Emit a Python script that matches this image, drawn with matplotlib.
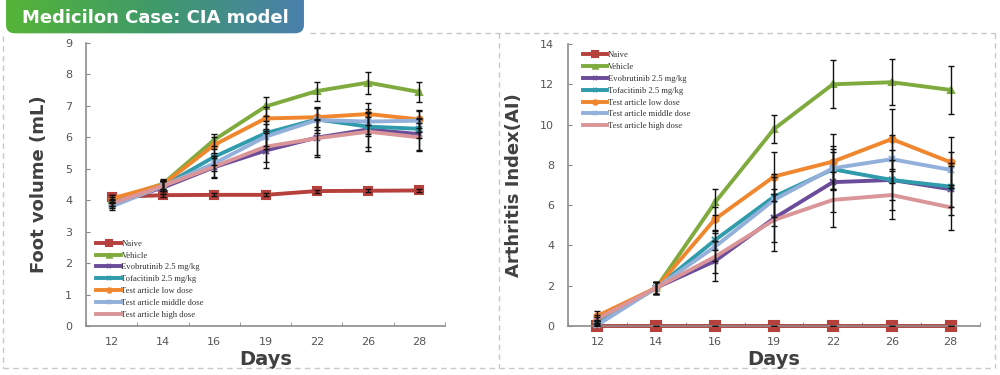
import numpy as np
import matplotlib
matplotlib.use("Agg")
import matplotlib.pyplot as plt
from matplotlib.patches import FancyBboxPatch
from matplotlib.lines import Line2D
from matplotlib.ticker import FixedLocator

days = ['12', '14', '16', '19', '22', '26', '28']
groups = ['Naive', 'Vehicle', 'Evobrutinib 2.5 mg/kg', 'Tofacitinib 2.5 mg/kg',
          'Test article low dose', 'Test article middle dose', 'Test article high dose']

# foot volume (mL)
foot_naive = [4.10, 4.16, 4.17, 4.17, 4.29, 4.30, 4.31]
foot_vehicle = [4.00, 4.52, 5.92, 6.98, 7.47, 7.74, 7.44]
foot_evo = [3.90, 4.40, 5.05, 5.58, 5.99, 6.25, 6.10]
foot_tofa = [3.85, 4.45, 5.38, 6.13, 6.57, 6.34, 6.27]
foot_low = [4.05, 4.50, 5.76, 6.60, 6.64, 6.74, 6.57]
foot_mid = [3.80, 4.45, 5.17, 6.02, 6.55, 6.50, 6.53]
foot_high = [3.90, 4.45, 5.07, 5.70, 5.97, 6.18, 6.00]

foot_err_naive = [0.05, 0.05, 0.05, 0.05, 0.05, 0.05, 0.05]
foot_err_vehicle = [0.10, 0.15, 0.20, 0.30, 0.30, 0.35, 0.33]
foot_err_evo = [0.10, 0.20, 0.30, 0.55, 0.55, 0.55, 0.50]
foot_err_tofa = [0.10, 0.15, 0.25, 0.40, 0.35, 0.30, 0.30]
foot_err_low = [0.10, 0.15, 0.25, 0.35, 0.30, 0.35, 0.27]
foot_err_mid = [0.10, 0.15, 0.25, 0.40, 0.40, 0.40, 0.35]
foot_err_high = [0.10, 0.15, 0.35, 0.50, 0.60, 0.60, 0.45]

# arthritis index
ai_naive = [0, 0, 0, 0, 0, 0, 0]
ai_vehicle = [0.35, 1.90, 6.14, 9.78, 12.00, 12.10, 11.72]
ai_evo = [0.20, 1.90, 3.23, 5.35, 7.14, 7.25, 6.79]
ai_tofa = [0.15, 1.90, 4.27, 6.42, 7.78, 7.25, 6.92]
ai_low = [0.50, 1.90, 5.31, 7.42, 8.16, 9.28, 8.13]
ai_mid = [0.05, 1.90, 3.94, 6.26, 7.83, 8.28, 7.75]
ai_high = [0.35, 1.90, 3.44, 5.26, 6.26, 6.50, 5.89]

ai_err_naive = [0, 0, 0, 0, 0, 0, 0]
ai_err_vehicle = [0.20, 0.30, 0.65, 0.70, 1.20, 1.15, 1.20]
ai_err_evo = [0.10, 0.30, 1.00, 1.20, 1.50, 1.50, 1.30]
ai_err_tofa = [0.10, 0.30, 0.50, 1.00, 1.00, 1.00, 1.00]
ai_err_low = [0.25, 0.30, 0.60, 1.20, 1.37, 1.50, 1.27]
ai_err_mid = [0.10, 0.30, 0.70, 1.30, 1.10, 1.20, 0.90]
ai_err_high = [0.10, 0.30, 0.80, 1.55, 1.36, 1.20, 1.10]

colors = ['#b5403c', '#7fab3e', '#6b4c9a', '#2f9bab', '#f0862e', '#93b0da', '#d99597']
markers = ['s', '^', 'x', 'x', 'o', 'x', '_']

foot_series = [foot_naive, foot_vehicle, foot_evo, foot_tofa, foot_low, foot_mid, foot_high]
foot_errs = [foot_err_naive, foot_err_vehicle, foot_err_evo, foot_err_tofa,
             foot_err_low, foot_err_mid, foot_err_high]
ai_series = [ai_naive, ai_vehicle, ai_evo, ai_tofa, ai_low, ai_mid, ai_high]
ai_errs = [ai_err_naive, ai_err_vehicle, ai_err_evo, ai_err_tofa,
           ai_err_low, ai_err_mid, ai_err_high]

fig = plt.figure(figsize=(10, 3.75), dpi=100)
fig.patch.set_facecolor('white')

# dashed frame
frame_col = '#c8c8c8'
def fline(xs, ys):
    fig.add_artist(Line2D(np.array(xs) / 1000, 1 - np.array(ys) / 375, color=frame_col,
                          lw=1, ls=(0, (4, 3)), transform=fig.transFigure))
fline([310, 995], [33, 33])
fline([3, 3], [36, 368])
fline([3, 995], [368, 368])
fline([995, 995], [33, 368])
fline([499, 499], [33, 368])

# title box with gradient
tax = fig.add_axes([0.003, 1 - 34 / 375, 0.304, 34 / 375])
tax.set_xlim(0, 1)
tax.set_ylim(0, 1)
tax.axis('off')
grad = np.linspace(0, 1, 256).reshape(1, -1)
cmap = matplotlib.colors.LinearSegmentedColormap.from_list('tb', ['#55b535', '#3f9a6a', '#4a7fae'])
im = tax.imshow(grad, extent=[0, 1, -0.5, 1], aspect='auto', cmap=cmap)
box = FancyBboxPatch((0.01, 0.02), 0.98, 1.2, boxstyle='round,pad=0,rounding_size=0.03',
                     transform=tax.transAxes, facecolor='none', edgecolor='none',
                     mutation_aspect=8)
tax.add_patch(box)
im.set_clip_path(box)
tax.text(0.5, 0.47, 'Medicilon Case: CIA model', color='white', fontsize=13,
         fontweight='bold', ha='center', va='center')


def draw_panel(rect, series, errs, ymax, ylabel, leg_loc, naive_ms):
    ax = fig.add_axes(rect)
    x = np.arange(len(days))
    for i, (vals, err) in enumerate(zip(series, errs)):
        ms = naive_ms if i == 0 else 4.5
        ax.plot(x, vals, color=colors[i], lw=2.8, marker=markers[i], ms=ms,
                mew=1.5, label=groups[i], zorder=2 + i * 0.1, solid_joinstyle='round',
                clip_on=False)
    for vals, err in zip(series, errs):
        ax.errorbar(x, vals, yerr=err, fmt='none', ecolor='#111111', elinewidth=1.0,
                    capsize=2, capthick=1.0, zorder=4)
    ax.set_xlim(-0.5, len(days) - 0.5)
    ax.set_ylim(0, ymax)
    ax.set_xticks(x)
    ax.set_xticklabels(days)
    ax.xaxis.set_minor_locator(FixedLocator(np.arange(-0.5, len(days), 1.0)))
    ax.tick_params(axis='x', which='major', length=0, pad=8, labelsize=8, labelcolor='#555555')
    ax.tick_params(axis='x', which='minor', length=3, direction='in', color='#888888')
    ax.tick_params(axis='y', length=3, direction='in', pad=10, labelsize=8,
                   labelcolor='#555555', color='#888888')
    for s in ['top', 'right']:
        ax.spines[s].set_visible(False)
    for s in ['left', 'bottom']:
        ax.spines[s].set_color('#8c8c8c')
        ax.spines[s].set_linewidth(1.2)
    ax.set_xlabel('Days', fontsize=14, fontweight='bold', color='#404040', labelpad=2)
    ax.set_ylabel(ylabel, fontsize=13, fontweight='bold', color='#404040', labelpad=12)
    ax.legend(loc=leg_loc, frameon=False, prop={'family': 'Liberation Serif', 'size': 6.2},
              handlelength=2.8, handletextpad=0.1, labelspacing=0.45, borderaxespad=0.4,
              labelcolor='#333333', markerscale=0.7)
    return ax


ax1 = draw_panel([0.086, 0.1307, 0.359, 0.7547], foot_series, foot_errs, 9,
                 'Foot volume (mL)', 'lower left', 5.5)
ax1.set_yticks(range(0, 10))
ax1.get_legend().set_bbox_to_anchor((0.01, 0.0))

ax2 = draw_panel([0.568, 0.1307, 0.412, 0.752], ai_series, ai_errs, 14,
                 'Arthritis Index(AI)', 'upper left', 6.5)
ax2.set_yticks(range(0, 15, 2))
ax2.get_legend().set_bbox_to_anchor((0.02, 1.0))

fig.savefig('out.png', dpi=100, facecolor='white')
